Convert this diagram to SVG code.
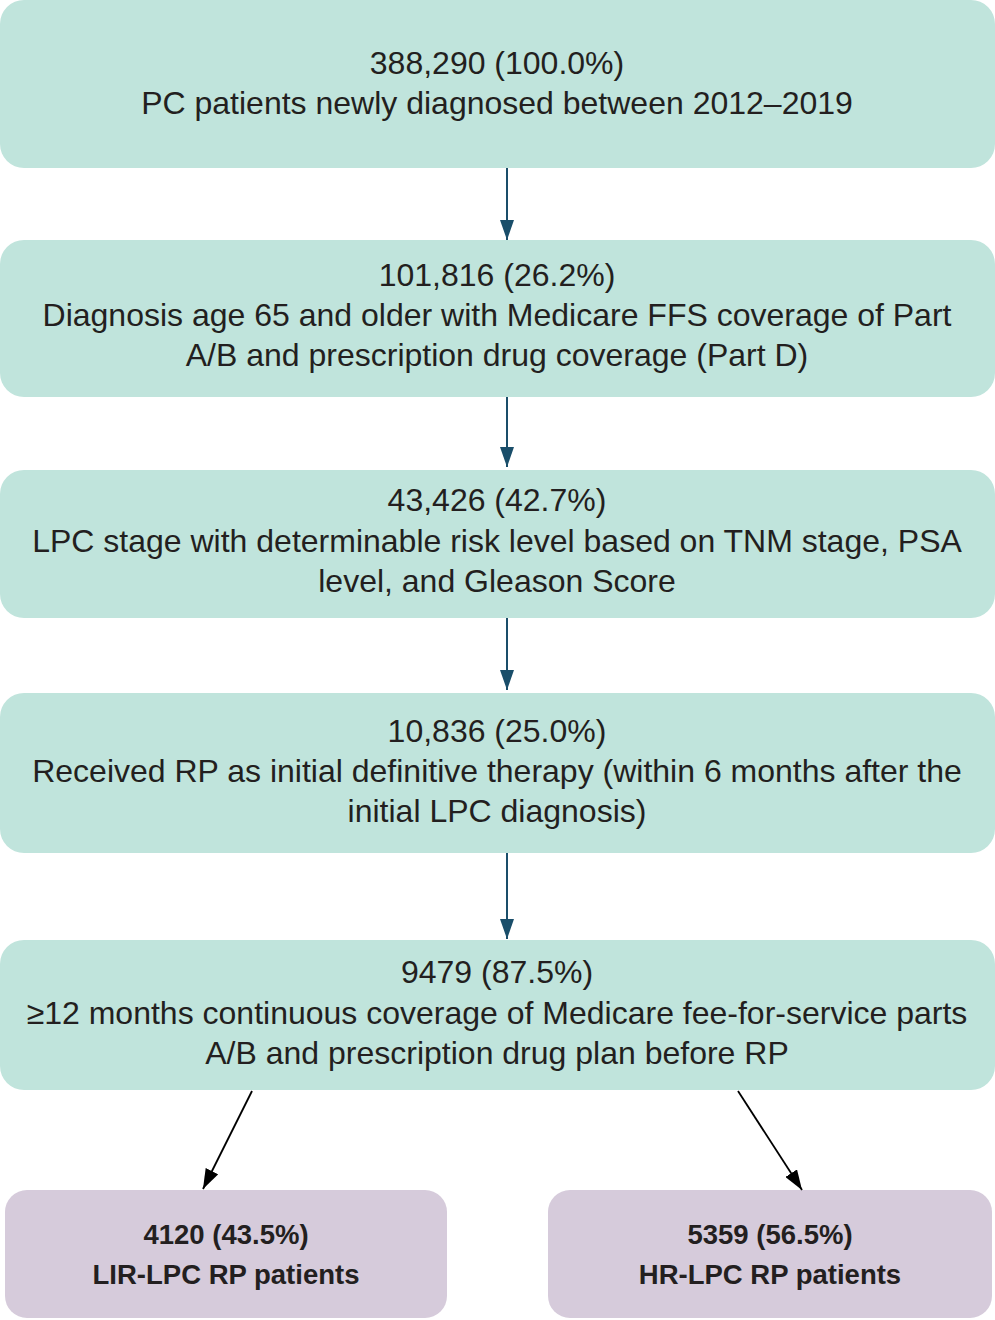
<svg xmlns="http://www.w3.org/2000/svg" width="995" height="1320" viewBox="0 0 995 1320">
<style>
.g{fill:#c0e4dc}
.p{fill:#d6cbdb}
.t{font-family:"Liberation Sans",Arial,sans-serif;font-size:32px;fill:#231f20;text-anchor:middle}
.b{font-family:"Liberation Sans",Arial,sans-serif;font-size:27.5px;font-weight:bold;fill:#231f20;text-anchor:middle}
.ct{stroke:#1a4e6a;stroke-width:2;fill:none}
.ck{stroke:#000;stroke-width:1.8;fill:none}
</style>
<defs>
<marker id="mt" markerWidth="20" markerHeight="14" refX="10" refY="5" orient="auto" markerUnits="userSpaceOnUse" viewBox="0 0 10 10" preserveAspectRatio="none"><path d="M0,0 L10,5 L0,10 z" fill="#1a4e6a"/></marker>
<marker id="mk" markerWidth="20" markerHeight="14" refX="10" refY="5" orient="auto" markerUnits="userSpaceOnUse" viewBox="0 0 10 10" preserveAspectRatio="none"><path d="M0,0 L10,5 L0,10 z" fill="#000"/></marker>
</defs>
<g id="n1"><rect class="g" x="0" y="0" width="995" height="168" rx="24"/>
<text class="t" x="497" y="74">388,290 (100.0%)</text>
<text class="t" x="497" y="114">PC patients newly diagnosed between 2012–2019</text></g>
<g id="n2"><rect class="g" x="0" y="240" width="995" height="157" rx="24"/>
<text class="t" x="497" y="286">101,816 (26.2%)</text>
<text class="t" x="497" y="326">Diagnosis age 65 and older with Medicare FFS coverage of Part</text>
<text class="t" x="497" y="366">A/B and prescription drug coverage (Part D)</text></g>
<g id="n3"><rect class="g" x="0" y="470" width="995" height="148" rx="24"/>
<text class="t" x="497" y="511">43,426 (42.7%)</text>
<text class="t" x="497" y="552">LPC stage with determinable risk level based on TNM stage, PSA</text>
<text class="t" x="497" y="592">level, and Gleason Score</text></g>
<g id="n4"><rect class="g" x="0" y="693" width="995" height="160" rx="24"/>
<text class="t" x="497" y="742">10,836 (25.0%)</text>
<text class="t" x="497" y="782">Received RP as initial definitive therapy (within 6 months after the</text>
<text class="t" x="497" y="822">initial LPC diagnosis)</text></g>
<g id="n5"><rect class="g" x="0" y="940" width="995" height="150" rx="24"/>
<text class="t" x="497" y="983">9479 (87.5%)</text>
<text class="t" x="497" y="1024">≥12 months continuous coverage of Medicare fee-for-service parts</text>
<text class="t" x="497" y="1064">A/B and prescription drug plan before RP</text></g>
<g id="n6"><rect class="p" x="5" y="1190" width="442" height="128" rx="22"/>
<text class="b" x="226" y="1244">4120 (43.5%)</text>
<text class="b" x="226" y="1284">LIR-LPC RP patients</text></g>
<g id="n7"><rect class="p" x="548" y="1190" width="444" height="128" rx="22"/>
<text class="b" x="770" y="1244">5359 (56.5%)</text>
<text class="b" x="770" y="1284">HR-LPC RP patients</text></g>
<g id="connectors">
<line class="ct" x1="507" y1="168" x2="507" y2="240" marker-end="url(#mt)"/>
<line class="ct" x1="507" y1="397" x2="507" y2="467" marker-end="url(#mt)"/>
<line class="ct" x1="507" y1="618" x2="507" y2="690" marker-end="url(#mt)"/>
<line class="ct" x1="507" y1="853" x2="507" y2="939" marker-end="url(#mt)"/>
<line class="ck" x1="252" y1="1091" x2="203" y2="1189" marker-end="url(#mk)"/>
<line class="ck" x1="738" y1="1091" x2="802" y2="1190" marker-end="url(#mk)"/>
</g>
</svg>
